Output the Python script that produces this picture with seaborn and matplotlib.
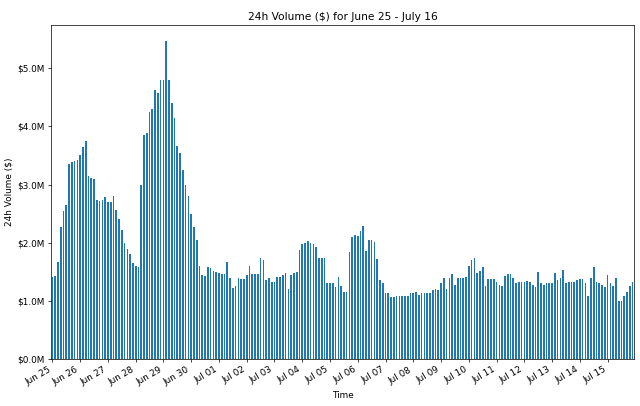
import numpy as np
import pandas as pd
import matplotlib
matplotlib.use("Agg")
import matplotlib.pyplot as plt
import matplotlib.dates as mdates
from matplotlib.ticker import FuncFormatter
import seaborn as sns

# Sample times: every 2.4 hours (10 per day) from June 25
start = "2018-06-25 00:00"
n_points = 210
# 24h volume in millions of dollars
volume_m = [
    1.41, 1.43, 1.67, 2.27, 2.55, 2.65, 3.35, 3.38, 3.40, 3.42,
    3.50, 3.65, 3.75, 3.15, 3.12, 3.10, 2.74, 2.72, 2.74, 2.78,
    2.70, 2.70, 2.80, 2.57, 2.40, 2.22, 2.00, 1.90, 1.80, 1.65,
    1.60, 1.58, 3.00, 3.85, 3.88, 4.24, 4.30, 4.62, 4.57, 4.79,
    4.80, 5.47, 4.79, 4.40, 4.15, 3.66, 3.55, 3.25, 3.00, 2.80,
    2.50, 2.27, 2.05, 1.60, 1.45, 1.42, 1.58, 1.57, 1.52, 1.50,
    1.48, 1.47, 1.46, 1.67, 1.40, 1.22, 1.25, 1.39, 1.37, 1.38,
    1.44, 1.60, 1.47, 1.46, 1.46, 1.74, 1.70, 1.35, 1.39, 1.33,
    1.32, 1.41, 1.41, 1.45, 1.48, 1.20, 1.45, 1.48, 1.49, 1.87,
    1.97, 2.00, 2.03, 2.00, 1.98, 1.93, 1.73, 1.73, 1.73, 1.30,
    1.31, 1.31, 1.24, 1.41, 1.25, 1.15, 1.15, 1.84, 2.10, 2.13,
    2.12, 2.20, 2.28, 1.86, 2.05, 2.05, 2.02, 1.72, 1.35, 1.30,
    1.13, 1.13, 1.06, 1.07, 1.08, 1.08, 1.08, 1.08, 1.09, 1.13,
    1.14, 1.16, 1.10, 1.13, 1.13, 1.13, 1.14, 1.18, 1.20, 1.19,
    1.30, 1.39, 1.21, 1.40, 1.46, 1.28, 1.39, 1.39, 1.39, 1.41,
    1.60, 1.70, 1.74, 1.48, 1.52, 1.58, 1.25, 1.37, 1.37, 1.37,
    1.33, 1.28, 1.25, 1.43, 1.46, 1.47, 1.40, 1.31, 1.32, 1.32,
    1.32, 1.34, 1.32, 1.28, 1.24, 1.50, 1.30, 1.28, 1.30, 1.30,
    1.30, 1.48, 1.35, 1.40, 1.53, 1.30, 1.32, 1.32, 1.33, 1.35,
    1.37, 1.37, 1.30, 1.09, 1.40, 1.58, 1.32, 1.30, 1.28, 1.24,
    1.44, 1.30, 1.25, 1.39, 1.00, 0.99, 1.08, 1.15, 1.25, 1.32,
]
title = "24h Volume ($) for June 25 - July 16"

times = pd.date_range(start, periods=n_points, freq="144min")
df = pd.DataFrame({"t": mdates.date2num(times.to_pydatetime()), "vol": volume_m})

DPI = 64
fig = plt.figure(figsize=(640 / DPI, 406 / DPI), dpi=DPI)
ax = fig.add_axes([51 / 640, 1 - 359 / 406, 583 / 640, 334 / 406])
sns.barplot(data=df, x="t", y="vol", native_scale=True, width=0.6,
            color="#1f77b4", saturation=1, errorbar=None, ax=ax,
            linewidth=0)

t0 = df["t"].iloc[0]
ax.set_xlim(t0 - 0.05, t0 + 20.95)
ax.set_ylim(0, max(volume_m) * 1.05)
ax.xaxis.set_major_locator(mdates.DayLocator())
ax.xaxis.set_major_formatter(mdates.DateFormatter("%b %d"))
ax.yaxis.set_major_formatter(FuncFormatter(lambda v, p: f"${v:.1f}M"))
for lab in ax.get_xticklabels():
    lab.set_rotation(30)
    lab.set_ha("right")
ax.tick_params(labelsize=10)
ax.set_xlabel("Time", fontsize=10)
ax.set_ylabel("24h Volume ($)", fontsize=10)
ax.set_title(title, fontsize=12)

fig.savefig("out.png", dpi=DPI)
